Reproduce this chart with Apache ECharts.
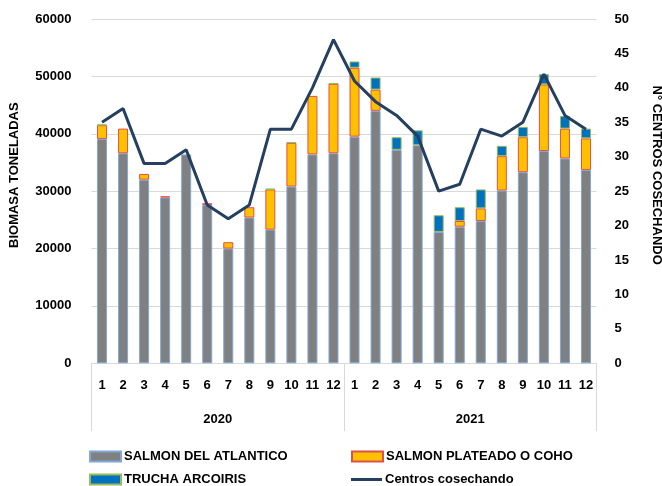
<!DOCTYPE html>
<html>
<head>
<meta charset="utf-8">
<script src="https://cdn.jsdelivr.net/npm/echarts@6/dist/echarts.min.js"></script>
<style>
html,body{margin:0;padding:0;background:#fff;}
#chart{width:662px;height:486px;}
</style>
</head>
<body>
<div id="chart"></div>
<script>
var months = ['1','2','3','4','5','6','7','8','9','10','11','12','1','2','3','4','5','6','7','8','9','10','11','12'];
var years = ['2020','2021'];
var leftTicks = [0, 60000, 10000];   // min, max, interval
var rightTicks = [0, 50, 5];
// toneladas
var salmonAtlantico = [39100,36600,32000,28900,36400,27600,20000,25400,23300,30800,36400,36600,
                       39500,44000,37200,38000,22900,23800,24800,30100,33300,37000,35700,33700];
var salmonCoho = [2400,4300,1000,200,0,300,1100,1800,7000,7600,10200,12100,
                  12000,3700,0,0,0,1000,2200,6000,6100,11600,5200,5500];
var trucha = [100,0,0,0,0,0,0,0,100,100,0,100,
              1100,2100,2200,2600,2900,2400,3300,1800,1800,1800,2200,1700];
// n° centros
var centros = [35,37,29,29,31,23,21,23,34,34,40,47,
               41,38,36,33,25,26,34,33,35,42,36,34];

var fontFam = '"Liberation Sans", Arial, sans-serif';
var txt = {color:'#000', fontWeight:'bold', fontSize:13, fontFamily:fontFam};

function noZero(arr){
	var out = [];
	for (var i = 0; i < arr.length; i++) {
		out.push(arr[i] === 0 ? '-' : arr[i]);
	}
	return out;
}

function oneLegend(name, left, top, isLine){
	return {
		data: [name],
		left: left,
		top: top,
		itemWidth: 31,
		itemHeight: isLine ? 3 : 10,
		itemGap: 4,
		icon: 'rect',
		textStyle: {color:'#000', fontWeight:'bold', fontSize:13, fontFamily:fontFam, padding:[0,0,0,-2]}
	};
}

var myChart = echarts.init(document.getElementById('chart'));
var option = {
	backgroundColor: '#fff',
	animation: false,
	grid: {left:91.5, right:65.5, top:19, bottom:122.7, outerBoundsMode:'none'},
	legend: [
		oneLegend('SALMON DEL ATLANTICO', 84, 445, false),
		oneLegend('SALMON PLATEADO O COHO', 346, 445, false),
		oneLegend('TRUCHA ARCOIRIS', 84, 468, false),
		oneLegend('Centros cosechando', 346, 468, true)
	],
	xAxis: [
		{
			type: 'category',
			data: months,
			axisLine: {lineStyle:{color:'#d9d9d9'}},
			axisTick: {show:false},
			axisLabel: Object.assign({interval:0, margin:16}, txt)
		},
		{
			type: 'category',
			data: years,
			position: 'bottom',
			axisLine: {show:false},
			axisTick: {show:true, length:68, lineStyle:{color:'#d9d9d9'}},
			axisLabel: Object.assign({margin:50}, txt)
		}
	],
	yAxis: [
		{
			type: 'value',
			min: leftTicks[0], max: leftTicks[1], interval: leftTicks[2],
			name: 'BIOMASA TONELADAS',
			nameLocation: 'middle',
			nameRotate: 90,
			nameGap: 71,
			nameMoveOverlap: false,
			nameTextStyle: {color:'#000', fontWeight:'bold', fontSize:13, fontFamily:fontFam, padding:[0,0,0,32]},
			axisLine: {show:false},
			axisTick: {show:false},
			splitLine: {lineStyle:{color:'#d9d9d9'}},
			axisLabel: Object.assign({margin:20, formatter:function(v){ return String(v); }}, txt)
		},
		{
			type: 'value',
			min: rightTicks[0], max: rightTicks[1], interval: rightTicks[2],
			name: 'N° CENTROS COSECHANDO',
			nameLocation: 'middle',
			nameRotate: -90,
			nameGap: 54,
			nameMoveOverlap: false,
			nameTextStyle: {color:'#000', fontWeight:'bold', fontSize:13, fontFamily:fontFam, padding:[0,32,0,0]},
			axisLine: {show:false},
			axisTick: {show:false},
			splitLine: {show:false},
			axisLabel: Object.assign({margin:18}, txt)
		}
	],
	series: [
		{
			name: 'SALMON DEL ATLANTICO',
			type: 'bar',
			stack: 'bio',
			barWidth: 10,
			data: noZero(salmonAtlantico),
			itemStyle: {color:'#808080', borderColor:'#7fa7d8', borderWidth:1}
		},
		{
			name: 'SALMON PLATEADO O COHO',
			type: 'bar',
			stack: 'bio',
			barWidth: 10,
			data: noZero(salmonCoho),
			itemStyle: {color:'#ffc000', borderColor:'#e0504a', borderWidth:1}
		},
		{
			name: 'TRUCHA ARCOIRIS',
			type: 'bar',
			stack: 'bio',
			barWidth: 10,
			data: noZero(trucha),
			itemStyle: {color:'#0070c0', borderColor:'#9bbb59', borderWidth:1}
		},
		{
			name: 'Centros cosechando',
			type: 'line',
			yAxisIndex: 1,
			data: centros,
			symbol: 'none',
			lineStyle: {color:'#243f60', width:3},
			itemStyle: {color:'#243f60'}
		}
	]
};
myChart.setOption(option);
</script>
</body>
</html>
